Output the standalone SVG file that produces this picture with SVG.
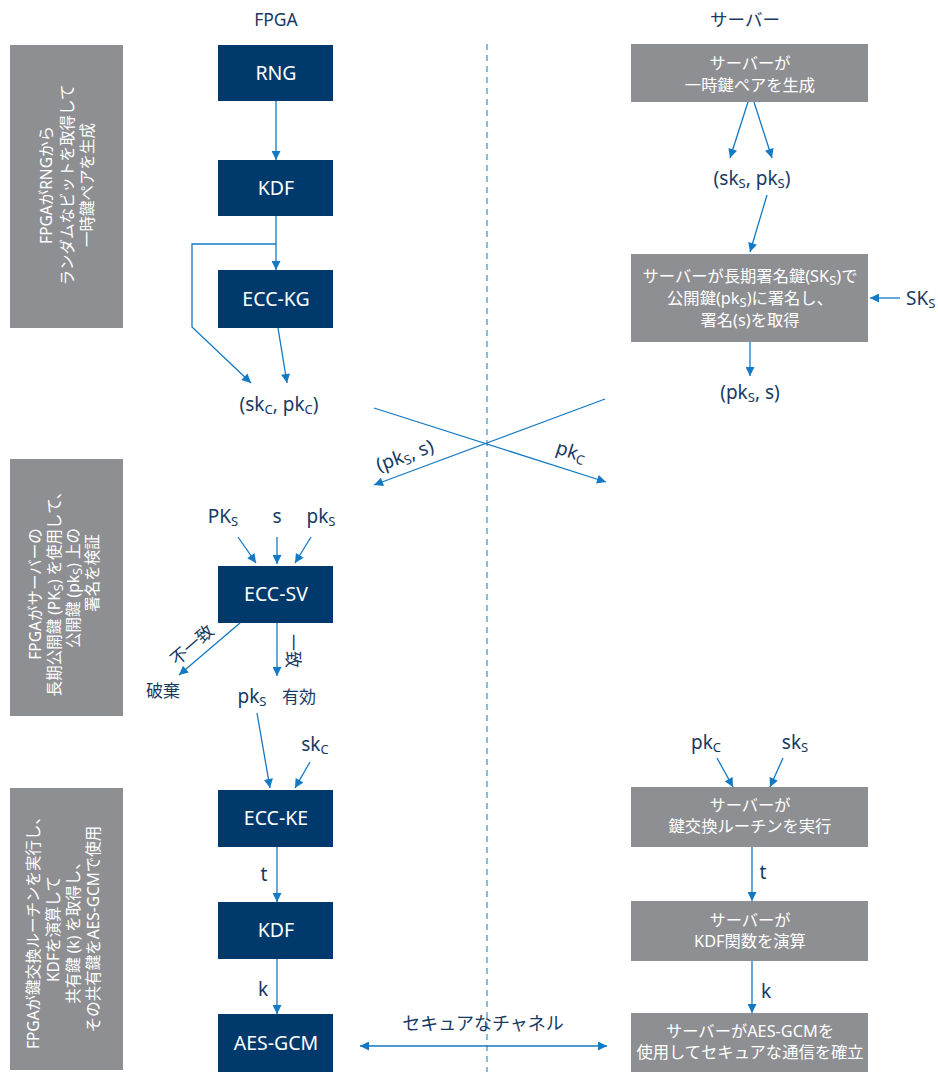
<svg xmlns="http://www.w3.org/2000/svg" width="938" height="1072" viewBox="0 0 938 1072">
<style>
.bg{fill:#ffffff}
.side{fill:#8e8f93}
.dark{fill:#003a6c}
.grey{fill:#8e8f93}
.wt{fill:#ffffff;font-family:"Noto Sans","Noto Sans CJK JP",sans-serif;text-anchor:middle}
.bx{font-size:19.5px}
.gt{font-size:16.3px}
.vt{font-size:15.5px}
.lb{fill:#173a63;font-family:"Noto Sans","Noto Sans CJK JP",sans-serif;font-size:19px;text-anchor:middle}
.ttl{font-size:17.5px}
.sm{font-size:13px}
.c{fill:none;stroke:#1279c4;stroke-width:1.3}
.dash{fill:none;stroke:#5ba8dc;stroke-width:1.5;stroke-dasharray:6 5}
</style>
<defs>
<marker id="ah" viewBox="0 0 10 10" refX="10" refY="5" markerWidth="10" markerHeight="9" markerUnits="userSpaceOnUse" orient="auto-start-reverse">
<path d="M0,0 L10,5 L0,10 z" fill="#1279c4"/>
</marker>
</defs>
<rect class="bg" x="0" y="0" width="938" height="1072"/>

<!-- side panels -->
<g id="side1">
<rect class="side" x="10" y="45" width="113" height="283"/>
<text class="wt vt" transform="translate(66,185) rotate(-90)"><tspan x="0" y="-14">FPGAがRNGから</tspan><tspan x="0" y="7">ランダムなビットを取得して</tspan><tspan x="0" y="27">一時鍵ペアを生成</tspan></text>
</g>
<g id="side2">
<rect class="side" x="10" y="459" width="113" height="257"/>
<text class="wt vt" transform="translate(66,588) rotate(-90)"><tspan x="-6" y="-25">FPGAがサーバーの</tspan><tspan x="-2" y="-6">長期公開鍵 (PK<tspan class="sm" dy="3">S</tspan><tspan dy="-3">) を使用して、</tspan></tspan><tspan x="0" y="13">公開鍵 (pk<tspan class="sm" dy="3">S</tspan><tspan dy="-3">) 上の</tspan></tspan><tspan x="15" y="32">署名を検証</tspan></text>
</g>
<g id="side3">
<rect class="side" x="10" y="788" width="113" height="282"/>
<text class="wt vt" transform="translate(66,929) rotate(-90)"><tspan x="0" y="-27">FPGAが鍵交換ルーチンを実行し、</tspan><tspan x="0" y="-7">KDFを演算して</tspan><tspan x="0" y="13">共有鍵 (k) を取得し、</tspan><tspan x="0" y="33">その共有鍵をAES-GCMで使用</tspan></text>
</g>

<!-- divider -->
<line class="dash" x1="487" y1="44" x2="487" y2="1072"/>

<!-- column titles -->
<text class="lb ttl" x="276" y="26">FPGA</text>
<text class="lb ttl" x="745" y="26">サーバー</text>

<!-- FPGA nodes -->
<g id="rng"><rect class="dark" x="218" y="45" width="115" height="56"/><text class="wt bx" x="276" y="80">RNG</text></g>
<g id="kdf1"><rect class="dark" x="218" y="160" width="115" height="56"/><text class="wt bx" x="276" y="195">KDF</text></g>
<g id="ecckg"><rect class="dark" x="218" y="270" width="115" height="58"/><text class="wt bx" x="276" y="306">ECC-KG</text></g>
<g id="eccsv"><rect class="dark" x="218" y="566" width="115" height="57"/><text class="wt bx" x="276" y="601">ECC-SV</text></g>
<g id="eccke"><rect class="dark" x="218" y="790" width="115" height="57"/><text class="wt bx" x="276" y="825">ECC-KE</text></g>
<g id="kdf2"><rect class="dark" x="218" y="902" width="115" height="57"/><text class="wt bx" x="276" y="937">KDF</text></g>
<g id="aes"><rect class="dark" x="218" y="1014" width="115" height="58"/><text class="wt bx" x="276" y="1050">AES-GCM</text></g>

<!-- server nodes -->
<g id="srv1"><rect class="grey" x="631" y="44" width="237" height="58"/><text class="wt gt"><tspan x="750" y="69">サーバーが</tspan><tspan x="750" y="91">一時鍵ペアを生成</tspan></text></g>
<g id="srv2"><rect class="grey" x="631" y="254" width="237" height="88"/>
<text class="wt gt" x="750" y="282">サーバーが長期署名鍵(SK<tspan class="sm" dy="3">S</tspan><tspan dy="-3">)で</tspan></text>
<text class="wt gt" x="750" y="304">公開鍵(pk<tspan class="sm" dy="3">S</tspan><tspan dy="-3">)に署名し、</tspan></text>
<text class="wt gt" x="750" y="326">署名(s)を取得</text></g>
<g id="srv3"><rect class="grey" x="631" y="787" width="237" height="60"/><text class="wt gt"><tspan x="750" y="811">サーバーが</tspan><tspan x="750" y="832">鍵交換ルーチンを実行</tspan></text></g>
<g id="srv4"><rect class="grey" x="631" y="901" width="237" height="60"/><text class="wt gt"><tspan x="750" y="926">サーバーが</tspan><tspan x="750" y="947">KDF関数を演算</tspan></text></g>
<g id="srv5"><rect class="grey" x="631" y="1013" width="237" height="59"/><text class="wt gt"><tspan x="750" y="1037">サーバーがAES-GCMを</tspan><tspan x="750" y="1058">使用してセキュアな通信を確立</tspan></text></g>

<!-- connectors -->
<g id="connectors">
<line class="c" x1="276" y1="101" x2="276" y2="160" marker-end="url(#ah)"/>
<line class="c" x1="276" y1="216" x2="276" y2="270" marker-end="url(#ah)"/>
<polyline class="c" points="276,244 192,244 192,327 251,383" marker-end="url(#ah)"/>
<line class="c" x1="278" y1="328" x2="287" y2="383" marker-end="url(#ah)"/>
<line class="c" x1="374" y1="408" x2="606" y2="482" marker-end="url(#ah)"/>
<line class="c" x1="605" y1="399" x2="374" y2="485" marker-end="url(#ah)"/>
<line class="c" x1="238" y1="537" x2="256" y2="563" marker-end="url(#ah)"/>
<line class="c" x1="277" y1="537" x2="277" y2="564" marker-end="url(#ah)"/>
<line class="c" x1="311" y1="537" x2="295" y2="563" marker-end="url(#ah)"/>
<line class="c" x1="240" y1="623" x2="179" y2="675" marker-end="url(#ah)"/>
<line class="c" x1="277" y1="623" x2="277" y2="676" marker-end="url(#ah)"/>
<line class="c" x1="257" y1="713" x2="270" y2="788" marker-end="url(#ah)"/>
<line class="c" x1="310" y1="762" x2="295" y2="788" marker-end="url(#ah)"/>
<line class="c" x1="277" y1="847" x2="277" y2="902" marker-end="url(#ah)"/>
<line class="c" x1="277" y1="959" x2="277" y2="1014" marker-end="url(#ah)"/>
<line class="c" x1="748" y1="102" x2="730" y2="158" marker-end="url(#ah)"/>
<line class="c" x1="754" y1="102" x2="772" y2="158" marker-end="url(#ah)"/>
<line class="c" x1="767" y1="195" x2="750" y2="252" marker-end="url(#ah)"/>
<line class="c" x1="900" y1="298" x2="870" y2="298" marker-end="url(#ah)"/>
<line class="c" x1="750" y1="342" x2="750" y2="376" marker-end="url(#ah)"/>
<line class="c" x1="717" y1="758" x2="733" y2="787" marker-end="url(#ah)"/>
<line class="c" x1="783" y1="758" x2="770" y2="787" marker-end="url(#ah)"/>
<line class="c" x1="752" y1="847" x2="752" y2="901" marker-end="url(#ah)"/>
<line class="c" x1="752" y1="961" x2="752" y2="1013" marker-end="url(#ah)"/>
<line class="c" x1="360" y1="1046" x2="607" y2="1046" marker-start="url(#ah)" marker-end="url(#ah)"/>
</g>

<!-- labels -->
<g id="labels">
<text class="lb" x="279" y="411">(sk<tspan class="sm" dy="3">C</tspan><tspan dy="-3">, pk</tspan><tspan class="sm" dy="3">C</tspan><tspan dy="-3">)</tspan></text>
<text class="lb" x="752" y="185">(sk<tspan class="sm" dy="3">S</tspan><tspan dy="-3">, pk</tspan><tspan class="sm" dy="3">S</tspan><tspan dy="-3">)</tspan></text>
<text class="lb" x="750" y="399">(pk<tspan class="sm" dy="3">S</tspan><tspan dy="-3">, s)</tspan></text>
<text class="lb" x="906" y="305" style="text-anchor:start">SK<tspan class="sm" dy="3">S</tspan></text>
<text class="lb" transform="translate(405,456) rotate(-20)" x="0" y="6">(pk<tspan class="sm" dy="3">S</tspan><tspan dy="-3">, s)</tspan></text>
<text class="lb" transform="translate(571,452) rotate(18)" x="0" y="6">pk<tspan class="sm" dy="3">C</tspan></text>
<text class="lb" x="223" y="523">PK<tspan class="sm" dy="3">S</tspan></text>
<text class="lb" x="277" y="523">s</text>
<text class="lb" x="321" y="523">pk<tspan class="sm" dy="3">S</tspan></text>
<text class="lb" transform="translate(192,645) rotate(-41)" x="0" y="6" style="font-size:17px">不一致</text>
<text class="lb" x="163" y="697" style="font-size:17px">破棄</text>
<text class="lb" transform="translate(293,651) rotate(90)" x="0" y="6" style="font-size:17px">一致</text>
<text class="lb" x="252" y="703">pk<tspan class="sm" dy="3">S</tspan></text>
<text class="lb" x="299" y="703" style="font-size:17px">有効</text>
<text class="lb" x="315" y="751">sk<tspan class="sm" dy="3">C</tspan></text>
<text class="lb" x="264" y="881">t</text>
<text class="lb" x="263" y="996">k</text>
<text class="lb" x="706" y="749">pk<tspan class="sm" dy="3">C</tspan></text>
<text class="lb" x="795" y="749">sk<tspan class="sm" dy="3">S</tspan></text>
<text class="lb" x="763" y="879">t</text>
<text class="lb" x="766" y="998">k</text>
<text class="lb" x="483" y="1030" style="font-size:18px">セキュアなチャネル</text>
</g>
</svg>
